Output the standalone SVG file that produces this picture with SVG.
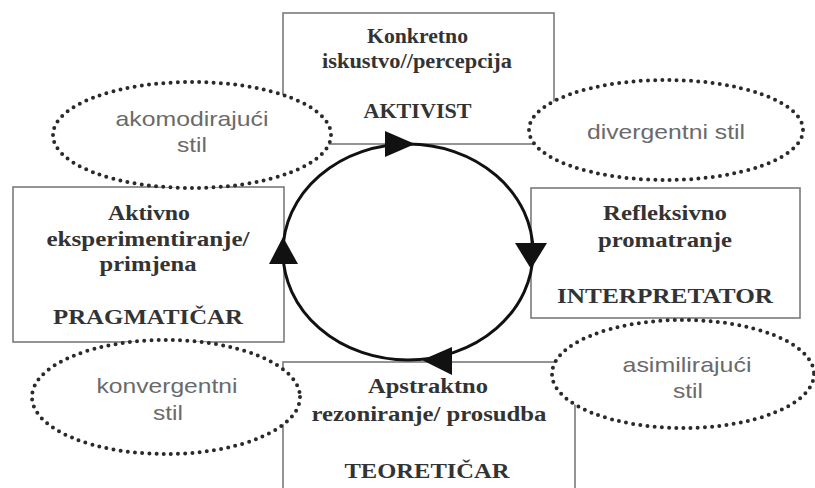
<svg xmlns="http://www.w3.org/2000/svg" width="815" height="488" viewBox="0 0 815 488">
<style>
.box{fill:#fff;stroke:#7a7a7a;stroke-width:1.6}
.ell{fill:#fff;stroke:#2a2a2a;stroke-width:4;stroke-dasharray:0 7.2;stroke-linecap:round}
.bt{font-family:"Liberation Serif","Times New Roman",serif;font-weight:bold;font-size:20px;fill:#333;text-anchor:middle}
.bc{font-size:21px}
.et{font-family:"Liberation Sans",Arial,sans-serif;font-size:21px;fill:#6a6a6a;text-anchor:middle}
.cyc{fill:none;stroke:#111;stroke-width:3}
.arr{fill:#111}
</style>
<g id="node-aktivist">
<rect class="box" x="283" y="13" width="271" height="131"/>
<text class="bt" x="417.5" y="43" textLength="101" lengthAdjust="spacingAndGlyphs">Konkretno</text>
<text class="bt" x="417" y="68" textLength="190" lengthAdjust="spacingAndGlyphs">iskustvo//percepcija</text>
<text class="bt bc" x="417.5" y="118" textLength="108" lengthAdjust="spacingAndGlyphs">AKTIVIST</text>
</g>
<g id="node-pragmaticar">
<rect class="box" x="13" y="187" width="271" height="155"/>
<text class="bt" x="149" y="220" textLength="82" lengthAdjust="spacingAndGlyphs">Aktivno</text>
<text class="bt" x="148" y="246" textLength="203" lengthAdjust="spacingAndGlyphs">eksperimentiranje/</text>
<text class="bt" x="148" y="271" textLength="97" lengthAdjust="spacingAndGlyphs">primjena</text>
<text class="bt bc" x="148" y="324" textLength="190" lengthAdjust="spacingAndGlyphs">PRAGMATIČAR</text>
</g>
<g id="node-interpretator">
<rect class="box" x="531" y="188" width="269" height="130"/>
<text class="bt" x="665" y="220" textLength="124" lengthAdjust="spacingAndGlyphs">Refleksivno</text>
<text class="bt" x="665" y="247" textLength="134" lengthAdjust="spacingAndGlyphs">promatranje</text>
<text class="bt bc" x="665" y="303" textLength="216" lengthAdjust="spacingAndGlyphs">INTERPRETATOR</text>
</g>
<g id="node-teoreticar">
<rect class="box" x="283" y="362" width="292" height="140"/>
<text class="bt" x="428" y="393" textLength="120" lengthAdjust="spacingAndGlyphs">Apstraktno</text>
<text class="bt" x="429" y="421" textLength="235" lengthAdjust="spacingAndGlyphs">rezoniranje/ prosudba</text>
<text class="bt bc" x="427" y="478" textLength="165" lengthAdjust="spacingAndGlyphs">TEORETIČAR</text>
</g>
<g id="node-akomodirajuci">
<ellipse class="ell" cx="192" cy="135" rx="139" ry="53"/>
<text class="et" x="192" y="126" textLength="153" lengthAdjust="spacingAndGlyphs">akomodirajući</text>
<text class="et" x="192" y="152" textLength="30" lengthAdjust="spacingAndGlyphs">stil</text>
</g>
<g id="node-divergentni">
<ellipse class="ell" cx="666" cy="130" rx="137" ry="50"/>
<text class="et" x="666" y="139" textLength="158" lengthAdjust="spacingAndGlyphs">divergentni stil</text>
</g>
<g id="node-konvergentni">
<ellipse class="ell" cx="166" cy="397" rx="134" ry="57"/>
<text class="et" x="167" y="393" textLength="141" lengthAdjust="spacingAndGlyphs">konvergentni</text>
<text class="et" x="168" y="420" textLength="30" lengthAdjust="spacingAndGlyphs">stil</text>
</g>
<g id="node-asimilirajuci">
<ellipse class="ell" cx="683" cy="374" rx="131" ry="54"/>
<text class="et" x="687" y="372" textLength="129" lengthAdjust="spacingAndGlyphs">asimilirajući</text>
<text class="et" x="688" y="398" textLength="30" lengthAdjust="spacingAndGlyphs">stil</text>
</g>
<g id="connectors">
<ellipse class="cyc" cx="408" cy="252" rx="125" ry="108"/>
<polygon class="arr" points="385,131 385,157 415,144"/>
<polygon class="arr" points="515,243 547,243 531,269"/>
<polygon class="arr" points="452,347 452,375 422,360"/>
<polygon class="arr" points="269,264 298,264 283,237"/>
</g>
</svg>
